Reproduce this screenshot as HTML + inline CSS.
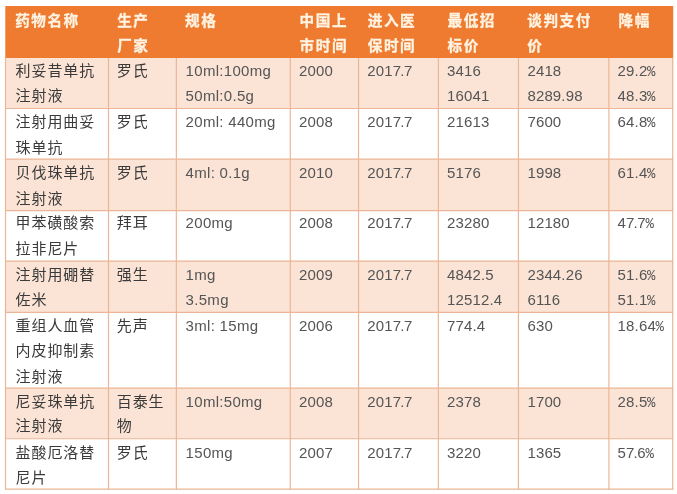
<!DOCTYPE html>
<html lang="zh-CN">
<head>
<meta charset="utf-8">
<title>药物价格谈判表</title>
<style>
html,body{margin:0;padding:0;background:#fff;}
body{width:677px;height:494px;overflow:hidden;}
svg{display:block;font-family:"Liberation Sans","Noto Sans CJK SC",sans-serif;}
.h{font-size:14.6px;font-weight:700;fill:#fff3e2;letter-spacing:1.55px;stroke:#fff3e2;stroke-width:0.3px;}
.z{font-size:15px;font-weight:400;fill:#3a3a3a;letter-spacing:0.9px;}
.l{font-size:15px;font-weight:400;fill:#555555;letter-spacing:0.15px;}
.u{letter-spacing:0.3px;}
.p{font-family:"Liberation Mono",monospace;font-size:14px;}
</style>
</head>
<body>
<svg width="677" height="494" viewBox="0 0 677 494">
<rect width="677" height="494" fill="#ffffff"/>
<rect x="5.3" y="6.0" width="667.9" height="52.0" fill="#ee7b30"/>
<rect x="5.3" y="58.0" width="667.9" height="50.5" fill="#fbe4d6"/>
<rect x="5.3" y="159.1" width="667.9" height="51.5" fill="#fbe4d6"/>
<rect x="5.3" y="261.1" width="667.9" height="51.25" fill="#fbe4d6"/>
<rect x="5.3" y="388.1" width="667.9" height="50.65" fill="#fbe4d6"/>
<g stroke="#ebb696" stroke-width="1.2" fill="none">
<line x1="5.3" y1="108.5" x2="673.2" y2="108.5"/>
<line x1="5.3" y1="159.1" x2="673.2" y2="159.1"/>
<line x1="5.3" y1="210.6" x2="673.2" y2="210.6"/>
<line x1="5.3" y1="261.1" x2="673.2" y2="261.1"/>
<line x1="5.3" y1="312.35" x2="673.2" y2="312.35"/>
<line x1="5.3" y1="388.1" x2="673.2" y2="388.1"/>
<line x1="5.3" y1="438.75" x2="673.2" y2="438.75"/>
<line x1="5.3" y1="489.2" x2="673.2" y2="489.2"/>
<line x1="5.5" y1="58.0" x2="5.5" y2="489.8"/>
<line x1="108.5" y1="58.0" x2="108.5" y2="489.8"/>
<line x1="176.35" y1="58.0" x2="176.35" y2="489.8"/>
<line x1="290.3" y1="58.0" x2="290.3" y2="489.8"/>
<line x1="358.55" y1="58.0" x2="358.55" y2="489.8"/>
<line x1="438.35" y1="58.0" x2="438.35" y2="489.8"/>
<line x1="518.45" y1="58.0" x2="518.45" y2="489.8"/>
<line x1="608.9" y1="58.0" x2="608.9" y2="489.8"/>
<line x1="672.7" y1="58.0" x2="672.7" y2="489.8"/>
</g>
<g class="h">
<text x="15.2" y="26">药物名称</text>
<text x="117.2" y="26">生产</text>
<text x="117.2" y="51">厂家</text>
<text x="185.0" y="26">规格</text>
<text x="299.6" y="26">中国上</text>
<text x="299.6" y="51">市时间</text>
<text x="367.8" y="26">进入医</text>
<text x="367.8" y="51">保时间</text>
<text x="447.5" y="26">最低招</text>
<text x="447.5" y="51">标价</text>
<text x="527.3" y="26">谈判支付</text>
<text x="527.3" y="51">价</text>
<text x="618.6" y="26">降幅</text>
</g>
<g>
<text class="z" x="15.6" y="76">利妥昔单抗</text>
<text class="z" x="15.6" y="101">注射液</text>
<text class="z" x="116.8" y="76">罗氏</text>
<text class="l u" x="185.6" y="76">10ml:100mg</text>
<text class="l u" x="185.6" y="101">50ml:0.5g</text>
<text class="l" x="299.0" y="76">2000</text>
<text class="l" x="367.3" y="76">2017<tspan dx="-1.0">.</tspan><tspan dx="-0.7">7</tspan></text>
<text class="l" x="447.0" y="76">3416</text>
<text class="l" x="447.0" y="101">16041</text>
<text class="l" x="527.4" y="76">2418</text>
<text class="l" x="527.4" y="101">8289.98</text>
<text class="l" x="617.6" y="76">29.2<tspan class="p" dx="-0.3">%</tspan></text>
<text class="l" x="617.6" y="101">48.3<tspan class="p" dx="-0.3">%</tspan></text>
</g>
<g>
<text class="z" x="15.6" y="127">注射用曲妥</text>
<text class="z" x="15.6" y="153">珠单抗</text>
<text class="z" x="116.8" y="127">罗氏</text>
<text class="l u" x="185.6" y="127">20ml: 440mg</text>
<text class="l" x="299.0" y="127">2008</text>
<text class="l" x="367.3" y="127">2017<tspan dx="-1.0">.</tspan><tspan dx="-0.7">7</tspan></text>
<text class="l" x="447.0" y="127">21613</text>
<text class="l" x="527.4" y="127">7600</text>
<text class="l" x="617.6" y="127">64.8<tspan class="p" dx="-0.3">%</tspan></text>
</g>
<g>
<text class="z" x="15.6" y="178">贝伐珠单抗</text>
<text class="z" x="15.6" y="204">注射液</text>
<text class="z" x="116.8" y="178">罗氏</text>
<text class="l u" x="185.6" y="178">4ml: 0.1g</text>
<text class="l" x="299.0" y="178">2010</text>
<text class="l" x="367.3" y="178">2017<tspan dx="-1.0">.</tspan><tspan dx="-0.7">7</tspan></text>
<text class="l" x="447.0" y="178">5176</text>
<text class="l" x="527.4" y="178">1998</text>
<text class="l" x="617.6" y="178">61.4<tspan class="p" dx="-0.3">%</tspan></text>
</g>
<g>
<text class="z" x="15.6" y="228">甲苯磺酸索</text>
<text class="z" x="15.6" y="254">拉非尼片</text>
<text class="z" x="116.8" y="228">拜耳</text>
<text class="l u" x="185.6" y="228">200mg</text>
<text class="l" x="299.0" y="228">2008</text>
<text class="l" x="367.3" y="228">2017<tspan dx="-1.0">.</tspan><tspan dx="-0.7">7</tspan></text>
<text class="l" x="447.0" y="228">23280</text>
<text class="l" x="527.4" y="228">12180</text>
<text class="l" x="617.6" y="228">47<tspan dx="-1.0">.</tspan><tspan dx="-0.7">7</tspan><tspan class="p" dx="-0.3">%</tspan></text>
</g>
<g>
<text class="z" x="15.6" y="280">注射用硼替</text>
<text class="z" x="15.6" y="305">佐米</text>
<text class="z" x="116.8" y="280">强生</text>
<text class="l u" x="185.6" y="280">1mg</text>
<text class="l u" x="185.6" y="305">3.5mg</text>
<text class="l" x="299.0" y="280">2009</text>
<text class="l" x="367.3" y="280">2017<tspan dx="-1.0">.</tspan><tspan dx="-0.7">7</tspan></text>
<text class="l" x="447.0" y="280">4842.5</text>
<text class="l" x="447.0" y="305">12512.4</text>
<text class="l" x="527.4" y="280">2344.26</text>
<text class="l" x="527.4" y="305">6116</text>
<text class="l" x="617.6" y="280">51.6<tspan class="p" dx="-0.3">%</tspan></text>
<text class="l" x="617.6" y="305">51.1<tspan class="p" dx="-0.3">%</tspan></text>
</g>
<g>
<text class="z" x="15.6" y="331">重组人血管</text>
<text class="z" x="15.6" y="356">内皮抑制素</text>
<text class="z" x="15.6" y="382">注射液</text>
<text class="z" x="116.8" y="331">先声</text>
<text class="l u" x="185.6" y="331">3ml: 15mg</text>
<text class="l" x="299.0" y="331">2006</text>
<text class="l" x="367.3" y="331">2017<tspan dx="-1.0">.</tspan><tspan dx="-0.7">7</tspan></text>
<text class="l" x="447.0" y="331">774.4</text>
<text class="l" x="527.4" y="331">630</text>
<text class="l" x="617.6" y="331">18.64<tspan class="p" dx="-0.3">%</tspan></text>
</g>
<g>
<text class="z" x="15.6" y="407">尼妥珠单抗</text>
<text class="z" x="15.6" y="431">注射液</text>
<text class="z" x="116.8" y="407">百泰生</text>
<text class="z" x="116.8" y="431">物</text>
<text class="l u" x="185.6" y="407">10ml:50mg</text>
<text class="l" x="299.0" y="407">2008</text>
<text class="l" x="367.3" y="407">2017<tspan dx="-1.0">.</tspan><tspan dx="-0.7">7</tspan></text>
<text class="l" x="447.0" y="407">2378</text>
<text class="l" x="527.4" y="407">1700</text>
<text class="l" x="617.6" y="407">28.5<tspan class="p" dx="-0.3">%</tspan></text>
</g>
<g>
<text class="z" x="15.6" y="458">盐酸厄洛替</text>
<text class="z" x="15.6" y="483">尼片</text>
<text class="z" x="116.8" y="458">罗氏</text>
<text class="l u" x="185.6" y="458">150mg</text>
<text class="l" x="299.0" y="458">2007</text>
<text class="l" x="367.3" y="458">2017<tspan dx="-1.0">.</tspan><tspan dx="-0.7">7</tspan></text>
<text class="l" x="447.0" y="458">3220</text>
<text class="l" x="527.4" y="458">1365</text>
<text class="l" x="617.6" y="458">57<tspan dx="-1.0">.</tspan><tspan dx="-0.7">6</tspan><tspan class="p" dx="-0.3">%</tspan></text>
</g>
</svg>
</body>
</html>
